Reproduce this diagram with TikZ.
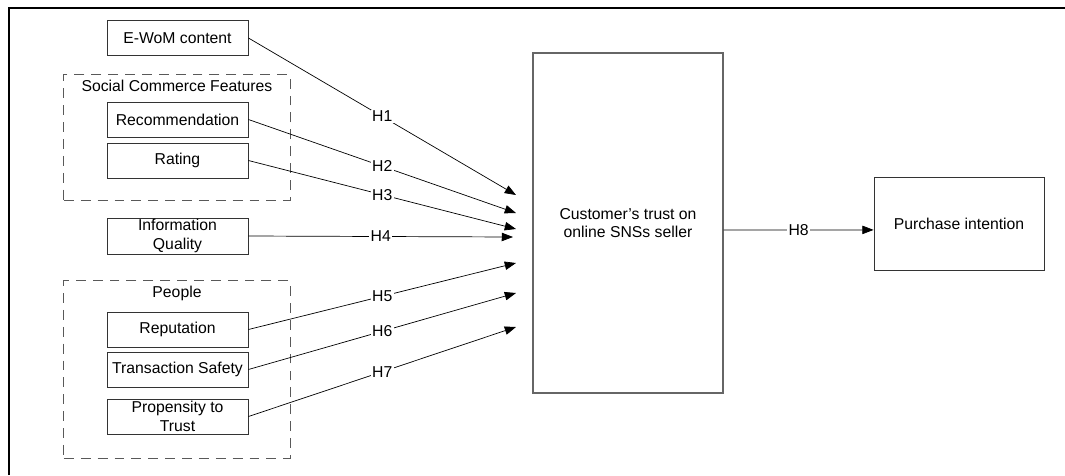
\documentclass[tikz,border=0pt]{standalone}
\usepackage{fontspec}
\setmainfont{Liberation Sans}
\usetikzlibrary{arrows.meta}

\begin{document}
\begin{tikzpicture}[
    x=0.025cm, y=-0.025cm,
    font=\fontsize{11.2}{13}\selectfont,
    factor/.style={draw=black!80,line width=0.6pt,minimum width=3.525cm,minimum height=0.875cm,inner sep=1pt,align=center},
    group/.style={draw=black!65,line width=0.7pt,dash pattern=on 7pt off 5pt},
    bigbox/.style={draw=black!60,line width=0.9pt,align=center},
    hyp/.style={-{Triangle[length=8pt,width=6pt]},line width=0.5pt},
    hlabel/.style={midway,fill=white,inner sep=1pt}
]
\useasboundingbox (0,0) rectangle (1065,475);
\draw[line width=1.4pt] (9,475) -- (9,8) -- (1065,8);

% groups
\node[group,minimum width=5.65cm,minimum height=3.125cm] (SCF) at (177,137.5) {};
\node (SCFlab) at (177,86) {Social Commerce Features};
\node[group,minimum width=5.65cm,minimum height=4.425cm] (PPL) at (177,369.5) {};
\node (PPLlab) at (177,293) {People};

% antecedents
\node[factor] (EW)  at (177.5,38)    {E-WoM content};
\node[factor] (REC) at (177.5,119.5) {Recommendation};
\node[factor] (RAT) at (177.5,160.5) {Rating};
\node[factor,minimum height=0.9cm] (IQ)  at (177.5,236) {Information\\Quality};
\node[factor] (REP) at (177.5,329.5) {Reputation};
\node[factor] (TS)  at (177.5,369.5) {Transaction Safety};
\node[factor] (PT)  at (177.5,416.5) {Propensity to\\Trust};

% outcomes
\node[bigbox,minimum width=4.75cm,minimum height=8.5cm] (TR) at (628,223) {Customer's trust on\\online SNSs seller};
\node[factor,minimum width=4.25cm,minimum height=2.325cm] (PI) at (959,223.5) {Purchase intention};

% arrow ends
\coordinate (T1) at (516,195);
\coordinate (T2) at (516,213);
\coordinate (T3) at (516,229);
\coordinate (T4) at (513,237);
\coordinate (T5) at (516,263);
\coordinate (T6) at (516,293);
\coordinate (T7) at (516,327);

\draw[hyp] (EW.east)  -- (T1) node[hlabel] {H1};
\draw[hyp] (REC.east) -- (T2) node[hlabel] {H2};
\draw[hyp] (RAT.east) -- (T3) node[hlabel] {H3};
\draw[hyp] (IQ.east)  -- (T4) node[hlabel] {H4};
\draw[hyp] (REP.east) -- (T5) node[hlabel] {H5};
\draw[hyp] (TS.east)  -- (T6) node[hlabel] {H6};
\draw[hyp] (PT.east)  -- (T7) node[hlabel] {H7};
\draw[hyp] ([yshift=-0.175cm]TR.east) -- ([yshift=-0.16cm]PI.west) node[hlabel] {H8};
\end{tikzpicture}
\end{document}
